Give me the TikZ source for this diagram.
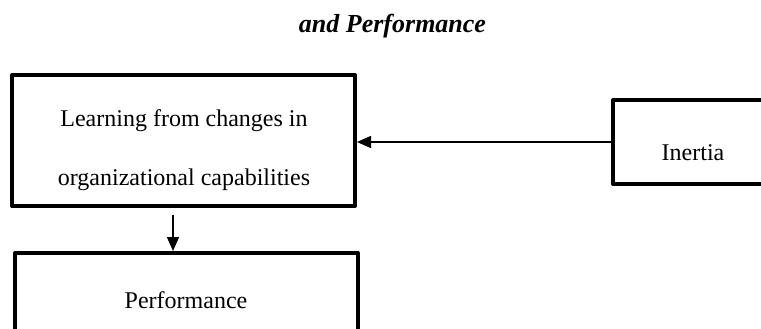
\documentclass[tikz,border=0pt]{standalone}
\usepackage{fontspec}
\setmainfont{Liberation Serif}
\usetikzlibrary{arrows.meta}
\begin{document}
\begin{tikzpicture}[x=1pt,y=-1pt,
  box/.style={draw=black, line width=4pt, line join=round, rectangle, inner sep=0pt},
  lbl/.style={font=\fontsize{24}{28}\selectfont, anchor=base, inner sep=0pt},
  link/.style={draw=black, line width=1.5pt, -{Triangle[length=14pt,width=12pt]}}]
  \useasboundingbox (0,0) rectangle (761,329);
  \clip (0,0) rectangle (761,329);
  % heading
  \node[font=\fontsize{26}{31}\selectfont\bfseries\itshape, anchor=base, inner sep=0pt]
    (head) at (392.5,33) {and Performance};
  % boxes
  \node[box, minimum width=343pt, minimum height=131pt] (learn) at (183.5,140.5) {};
  \node[lbl] (learnA) at (184,127) {Learning from changes in};
  \node[lbl] (learnB) at (184,185) {organizational capabilities};
  \node[box, minimum width=160pt, minimum height=84pt] (inertia) at (693,142) {};
  \node[lbl] (inertiaT) at (693,160) {Inertia};
  \node[box, minimum width=343pt, minimum height=100pt] (perf) at (186.5,303) {};
  \node[lbl] (perfT) at (186,308) {Performance};
  % connectors
  \draw[link] (inertia.west) -- (learn.east |- inertia.west);
  \draw[link] ([yshift=-7pt]learn.south -| 173,0) -- (perf.north -| 173,0);
\end{tikzpicture}
\end{document}
